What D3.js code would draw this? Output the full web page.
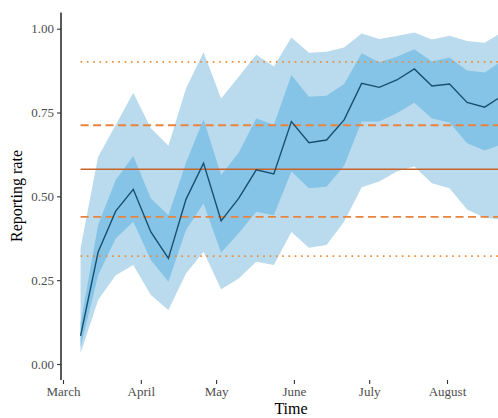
<!DOCTYPE html>
<html><head><meta charset="utf-8">
<script src="https://cdn.jsdelivr.net/npm/d3@7"></script>
<style>body{margin:0;background:#fff}svg{display:block}</style>
</head><body><svg id="c" width="498" height="418"></svg>
<script>
const weeks = ["2020-03-08","2020-03-15","2020-03-22","2020-03-29","2020-04-05","2020-04-12","2020-04-19","2020-04-26","2020-05-03","2020-05-10","2020-05-17","2020-05-24","2020-05-31","2020-06-07","2020-06-14","2020-06-21","2020-06-28","2020-07-05","2020-07-12","2020-07-19","2020-07-26","2020-08-02","2020-08-09","2020-08-16","2020-08-23"];
const median = [0.084,0.334,0.456,0.521,0.394,0.315,0.491,0.599,0.427,0.494,0.579,0.567,0.723,0.660,0.668,0.728,0.837,0.825,0.847,0.880,0.829,0.835,0.780,0.766,0.800];
const inner_lo = [0.05,0.265,0.374,0.424,0.310,0.245,0.40,0.479,0.332,0.39,0.454,0.444,0.574,0.524,0.529,0.591,0.723,0.723,0.748,0.779,0.732,0.720,0.658,0.637,0.655];
const inner_hi = [0.12,0.415,0.549,0.620,0.494,0.444,0.60,0.730,0.564,0.63,0.733,0.713,0.862,0.797,0.800,0.835,0.927,0.900,0.916,0.939,0.902,0.914,0.875,0.869,0.905];
const outer_lo = [0.032,0.191,0.265,0.295,0.206,0.161,0.270,0.335,0.223,0.255,0.305,0.295,0.394,0.347,0.355,0.424,0.527,0.544,0.574,0.589,0.539,0.524,0.461,0.436,0.43];
const outer_hi = [0.346,0.618,0.713,0.809,0.703,0.651,0.822,0.930,0.792,0.857,0.922,0.887,0.974,0.928,0.931,0.944,0.986,0.969,0.978,0.989,0.968,0.979,0.963,0.958,0.99];
const refMean = 0.581;
const refDashed = [0.439, 0.712];
const refDotted = [0.322, 0.901];
const yTicks = [0, 0.25, 0.5, 0.75, 1];
const monthTicks = ["2020-03-01","2020-04-01","2020-05-01","2020-06-01","2020-07-01","2020-08-01"];
const monthNames = ["March","April","May","June","July","August"];

const parse = d3.utcParse("%Y-%m-%d");
const dates = weeks.map(parse);
const data = dates.map((d,i)=>({d, m:median[i], il:inner_lo[i], ih:inner_hi[i], ol:outer_lo[i], oh:outer_hi[i]}));

const svg = d3.select("#c");
const x = d3.scaleUtc().domain([parse("2020-03-01"), parse("2020-08-01")]).range([63, 447]);
const y = d3.scaleLinear().domain([0,1]).range([364, 28.7]);

const g = svg.append("g");
g.append("path").datum(data).attr("fill","#b9dbed")
  .attr("d", d3.area().x(d=>x(d.d)).y0(d=>y(d.ol)).y1(d=>y(d.oh)));
g.append("path").datum(data).attr("fill","#86c4e7")
  .attr("d", d3.area().x(d=>x(d.d)).y0(d=>y(d.il)).y1(d=>y(d.ih)));

const x0 = x(dates[0]), x1 = x(dates[dates.length-1]);
g.append("line").attr("x1",x0).attr("x2",x1).attr("y1",y(refMean)).attr("y2",y(refMean))
  .attr("stroke","#c8642a").attr("stroke-width",1.6);
refDashed.forEach(v=>g.append("line").attr("x1",x0).attr("x2",x1).attr("y1",y(v)).attr("y2",y(v))
  .attr("stroke","#e8843e").attr("stroke-width",1.8).attr("stroke-dasharray","8,4.5"));
refDotted.forEach(v=>g.append("line").attr("x1",x0).attr("x2",x1).attr("y1",y(v)).attr("y2",y(v))
  .attr("stroke","#f08a30").attr("stroke-width",1.8).attr("stroke-dasharray","1.6,4.7"));

g.append("path").datum(data).attr("fill","none").attr("stroke","#17506f").attr("stroke-width",1.4)
  .attr("d", d3.line().x(d=>x(d.d)).y(d=>y(d.m)));

// y axis
const ya = svg.append("g").attr("transform","translate(61,0)")
  .call(d3.axisLeft(y).tickValues(yTicks).tickFormat(d3.format(".2f")).tickSize(4).tickPadding(3));
ya.select(".domain").attr("d","M0,12.5V380").attr("stroke","#000").attr("stroke-width",1.3);
ya.selectAll(".tick line").attr("stroke","#333").attr("stroke-width",1.1);
ya.selectAll("text").attr("font-family","Liberation Serif, serif").attr("font-size",13).attr("fill","#4d4d4d");

// x axis
const xa = svg.append("g").attr("transform","translate(0,380)")
  .call(d3.axisBottom(x).tickValues(monthTicks.map(parse)).tickFormat((d,i)=>monthNames[i]).tickSize(4).tickPadding(3));
xa.select(".domain").remove();
xa.selectAll(".tick line").attr("stroke","#333").attr("stroke-width",1.1);
xa.selectAll("text").attr("font-family","Liberation Serif, serif").attr("font-size",13).attr("fill","#4d4d4d");

svg.append("text").attr("x",291).attr("y",414).attr("text-anchor","middle")
  .attr("font-family","Liberation Serif, serif").attr("font-size",16).attr("fill","#000").text("Time");
svg.append("text").attr("transform","translate(22,196) rotate(-90)").attr("text-anchor","middle")
  .attr("font-family","Liberation Serif, serif").attr("font-size",16).attr("fill","#000").text("Reporting rate");
</script></body></html>
